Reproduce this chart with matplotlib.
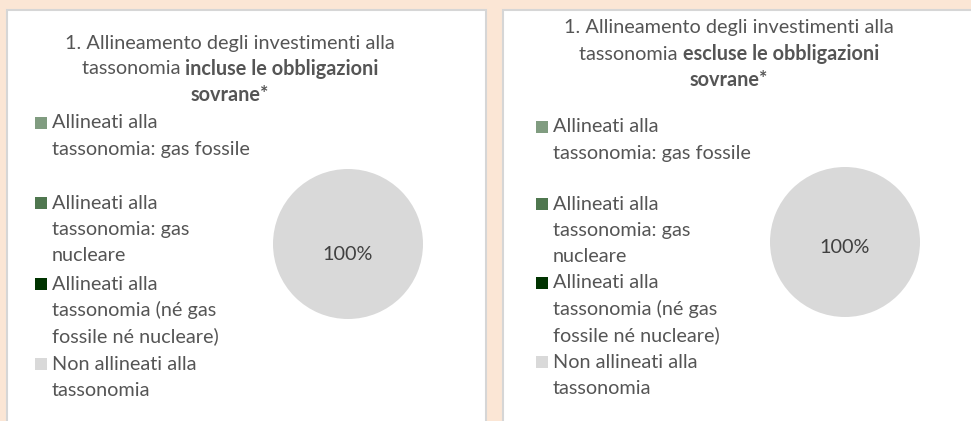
import matplotlib
matplotlib.use("Agg")
import matplotlib.pyplot as plt
from matplotlib.patches import Rectangle

# ---- data ----
legend_labels = [
    "Allineati alla\ntassonomia: gas fossile",
    "Allineati alla\ntassonomia: gas\nnucleare",
    "Allineati alla\ntassonomia (né gas\nfossile né nucleare)",
    "Non allineati alla\ntassonomia",
]
values_incl = [0, 0, 0, 100]
values_excl = [0, 0, 0, 100]
pct_labels = ["", "", "", "100%"]
title_normal_1 = "1. Allineamento degli investimenti alla"
title_normal_2 = "tassonomia "
title_bold_incl = ["incluse le obbligazioni", "sovrane*"]
title_bold_excl = ["escluse le obbligazioni", "sovrane*"]

colors = ["#809C80", "#4F774F", "#003300", "#D9D9D9"]
BG = "#FBE6D5"
TXT = "#555555"
FONT = "Lato"
FS = 14.3

W, H = 971, 421
fig = plt.figure(figsize=(W / 100, H / 100), dpi=100, facecolor=BG)
fig.canvas.draw()
renderer = fig.canvas.get_renderer()


def fx(x):
    return x / W


def fy(y):
    return 1 - y / H


# panels
for (x0, x1) in [(7, 486), (503, 975)]:
    fig.patches.append(Rectangle((fx(x0), fy(H + 5)), fx(x1 - x0), fy(10) - fy(H + 5),
                                 transform=fig.transFigure, facecolor="white",
                                 edgecolor="#D6D6D6", linewidth=1.5, zorder=-5))


def centered_mixed(cx, y, parts):
    objs = []
    widths = []
    for s, w in parts:
        t = fig.text(0, fy(y), s, fontsize=FS, fontweight=w, color=TXT,
                     family=FONT, va="center", ha="left")
        widths.append(t.get_window_extent(renderer).width)
        objs.append(t)
    total = sum(widths)
    x = cx - total / 2
    for t, w in zip(objs, widths):
        t.set_x(fx(x))
        x += w


def panel(cx_title, ty, bold, leg_x, leg_y, pie_c, values, lab_y):
    centered_mixed(cx_title, ty[0], [(title_normal_1, "normal")])
    centered_mixed(cx_title, ty[1], [(title_normal_2, "normal"), (bold[0], "bold")])
    centered_mixed(cx_title, ty[2], [(bold[1], "bold")])
    for i, (lab, col) in enumerate(zip(legend_labels, colors)):
        lines = lab.split("\n")
        y0 = leg_y[i]
        fig.patches.append(Rectangle((fx(leg_x), fy(y0 + 6)), fx(12), fy(y0 - 6) - fy(y0 + 6),
                                     transform=fig.transFigure, facecolor=col,
                                     edgecolor="none", zorder=2))
        for j, ln in enumerate(lines):
            fig.text(fx(leg_x + 17), fy(y0 + j * 26.3), ln, fontsize=FS, color=TXT,
                     family=FONT, va="center", ha="left")
    r = 75
    ax = fig.add_axes([fx(pie_c[0] - r), fy(pie_c[1] + r), fx(2 * r),
                       fy(pie_c[1] - r) - fy(pie_c[1] + r)], zorder=3)
    ax.patch.set_alpha(0)
    ax.pie(values, colors=colors, startangle=90, counterclock=False,
           wedgeprops=dict(linewidth=0))
    ax.set_xlim(-1, 1)
    ax.set_ylim(-1, 1)
    ax.set_aspect("equal")
    ax.axis("off")
    for v, pl in zip(values, pct_labels):
        if v > 0:
            fig.text(fx(pie_c[0]), fy(lab_y), pl, fontsize=FS, color="#404040",
                     family=FONT, ha="center", va="center", zorder=5)


panel(230, [43, 69, 95], title_bold_incl, 35, [123, 203, 284, 364],
      (348, 244), values_incl, 254)
panel(729, [28, 54, 80], title_bold_excl, 536, [127, 204, 283, 362],
      (845, 242), values_excl, 248)

fig.savefig("out.png", dpi=100, facecolor=BG)
